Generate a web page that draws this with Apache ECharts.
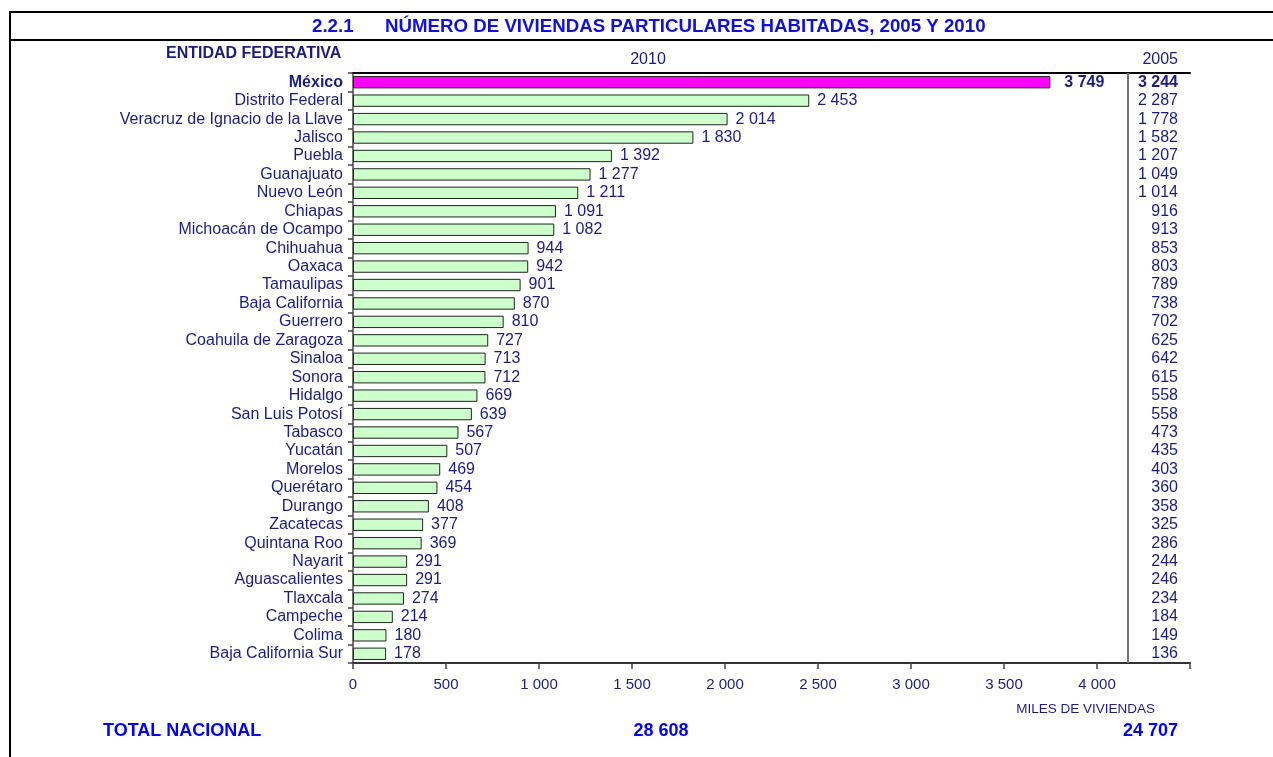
<!DOCTYPE html>
<html>
<head>
<meta charset="utf-8">
<script src="https://cdn.jsdelivr.net/npm/echarts@6/dist/echarts.min.js"></script>
<style>
  html, body { margin: 0; padding: 0; background: #fff; }
  #chart { width: 1273px; height: 757px; }
</style>
</head>
<body>
<div id="chart"></div>
<script>
const entidades = [
  'México', 'Distrito Federal', 'Veracruz de Ignacio de la Llave', 'Jalisco', 'Puebla',
  'Guanajuato', 'Nuevo León', 'Chiapas', 'Michoacán de Ocampo', 'Chihuahua', 'Oaxaca',
  'Tamaulipas', 'Baja California', 'Guerrero', 'Coahuila de Zaragoza', 'Sinaloa', 'Sonora',
  'Hidalgo', 'San Luis Potosí', 'Tabasco', 'Yucatán', 'Morelos', 'Querétaro', 'Durango',
  'Zacatecas', 'Quintana Roo', 'Nayarit', 'Aguascalientes', 'Tlaxcala', 'Campeche',
  'Colima', 'Baja California Sur'
]
const viviendas2010 = [
  3749, 2453, 2014, 1830, 1392, 1277, 1211, 1091, 1082, 944, 942,
  901, 870, 810, 727, 713, 712, 669, 639, 567, 507, 469, 454, 408,
  377, 369, 291, 291, 274, 214, 180, 178
]
const viviendas2005 = [
  3244, 2287, 1778, 1582, 1207, 1049, 1014, 916, 913, 853, 803,
  789, 738, 702, 625, 642, 615, 558, 558, 473, 435, 403, 360, 358,
  325, 286, 244, 246, 234, 184, 149, 136
]
const totalNacional = { 2010: 28608, 2005: 24707 }
const xTicks = { min: 0, max: 4500, interval: 500 }
const destacado = 'México'

const navy = '#1c1c80'
const blue = '#0000ff'
const fmt = v => String(v).replace(/\B(?=(\d{3})+(?!\d))/g, ' ')

const chart = echarts.init(document.getElementById('chart'))

const barData = viviendas2010.map((v, i) => {
  if (entidades[i] !== destacado) return v
  return {
    value: v,
    itemStyle: { color: '#ff00ff' },
    label: { fontWeight: 'bold', distance: 14 }
  }
})

const option = {
  animation: false,
  textStyle: { fontFamily: 'Liberation Sans, Arial, sans-serif' },
  grid: { left: 353, right: 83, top: 73, bottom: 94, containLabel: false },
  xAxis: [
    {
      type: 'value',
      position: 'bottom',
      min: xTicks.min,
      max: xTicks.max,
      interval: xTicks.interval,
      axisLine: { show: true, lineStyle: { color: '#333', width: 2 } },
      axisTick: { show: true, length: 6, inside: false, lineStyle: { color: '#444', width: 1.5 } },
      axisLabel: {
        color: navy,
        fontSize: 15,
        margin: 14,
        formatter: v => (v >= xTicks.max ? '' : fmt(v))
      },
      splitLine: { show: false }
    },
    {
      type: 'value',
      position: 'top',
      min: xTicks.min,
      max: xTicks.max,
      axisLine: { show: true, lineStyle: { color: '#000', width: 2 } },
      axisTick: { show: false },
      axisLabel: { show: false },
      splitLine: { show: false }
    }
  ],
  yAxis: [
    {
      type: 'category',
      data: entidades,
      inverse: true,
      position: 'left',
      axisLine: { show: true, lineStyle: { color: '#333', width: 1.5 } },
      axisTick: { show: true, interval: 0, length: 5, lineStyle: { color: '#444', width: 1.5 } },
      axisLabel: {
        interval: 0,
        color: navy,
        fontSize: 16,
        margin: 10,
        formatter: v => (v === destacado ? '{b|' + v + '}' : v),
        rich: { b: { fontWeight: 'bold', fontSize: 16, color: navy } }
      }
    },
    {
      type: 'category',
      data: viviendas2005.map(fmt),
      inverse: true,
      position: 'right',
      axisLine: { show: true, lineStyle: { color: '#777', width: 2 } },
      axisTick: { show: false },
      axisLabel: {
        interval: 0,
        inside: true,
        color: navy,
        fontSize: 16,
        margin: 12,
        formatter: (v, i) => (i === 0 ? '{b|' + v + '}' : v),
        rich: { b: { fontWeight: 'bold', fontSize: 16, color: navy } }
      }
    }
  ],
  series: [
    {
      name: '2010',
      type: 'bar',
      xAxisIndex: 0,
      yAxisIndex: 0,
      data: barData,
      barCategoryGap: '33%',
      itemStyle: { color: '#ccffcc', borderColor: '#222', borderWidth: 1 },
      label: {
        show: true,
        position: 'right',
        distance: 8,
        color: navy,
        fontSize: 16,
        formatter: p => fmt(p.value)
      },
      markLine: {
        silent: true,
        symbol: 'none',
        label: { show: false },
        lineStyle: { color: '#777', width: 2, type: 'solid' },
        data: [{ xAxis: 4167 }]
      }
    }
  ],
  graphic: [
    { type: 'line', shape: { x1: 9, y1: 12, x2: 1273, y2: 12 }, style: { stroke: '#000', lineWidth: 2 } },
    { type: 'line', shape: { x1: 9, y1: 40, x2: 1273, y2: 40 }, style: { stroke: '#000', lineWidth: 2 } },
    { type: 'line', shape: { x1: 10, y1: 11, x2: 10, y2: 757 }, style: { stroke: '#000', lineWidth: 2 } },
    {
      type: 'text', left: 312, top: 17,
      style: { text: '2.2.1', font: 'bold 18.7px Liberation Sans, Arial', fill: '#1010dd' }
    },
    {
      type: 'text', left: 385, top: 17,
      style: { text: 'NÚMERO DE VIVIENDAS PARTICULARES HABITADAS, 2005 Y 2010', font: 'bold 18.7px Liberation Sans, Arial', fill: '#1010dd' }
    },
    {
      type: 'text', left: 166, top: 46,
      style: { text: 'ENTIDAD FEDERATIVA', font: 'bold 16px Liberation Sans, Arial', fill: navy }
    },
    {
      type: 'text', x: 648, y: 60,
      style: { text: '2010', font: '16px Liberation Sans, Arial', fill: navy, align: 'center', verticalAlign: 'middle' }
    },
    {
      type: 'text', x: 1178, y: 60,
      style: { text: '2005', font: '16px Liberation Sans, Arial', fill: navy, align: 'right', verticalAlign: 'middle' }
    },
    {
      type: 'text', x: 1155, y: 709,
      style: { text: 'MILES DE VIVIENDAS', font: '13.5px Liberation Sans, Arial', fill: navy, align: 'right', verticalAlign: 'middle' }
    },
    {
      type: 'text', x: 103, y: 731,
      style: { text: 'TOTAL NACIONAL', font: 'bold 18px Liberation Sans, Arial', fill: blue, align: 'left', verticalAlign: 'middle' }
    },
    {
      type: 'text', x: 661, y: 731,
      style: { text: fmt(totalNacional[2010]), font: 'bold 18px Liberation Sans, Arial', fill: blue, align: 'center', verticalAlign: 'middle' }
    },
    {
      type: 'text', x: 1178, y: 731,
      style: { text: fmt(totalNacional[2005]), font: 'bold 18px Liberation Sans, Arial', fill: blue, align: 'right', verticalAlign: 'middle' }
    }
  ]
}

chart.setOption(option)
window.addEventListener('resize', () => chart.resize())
</script>
</body>
</html>
